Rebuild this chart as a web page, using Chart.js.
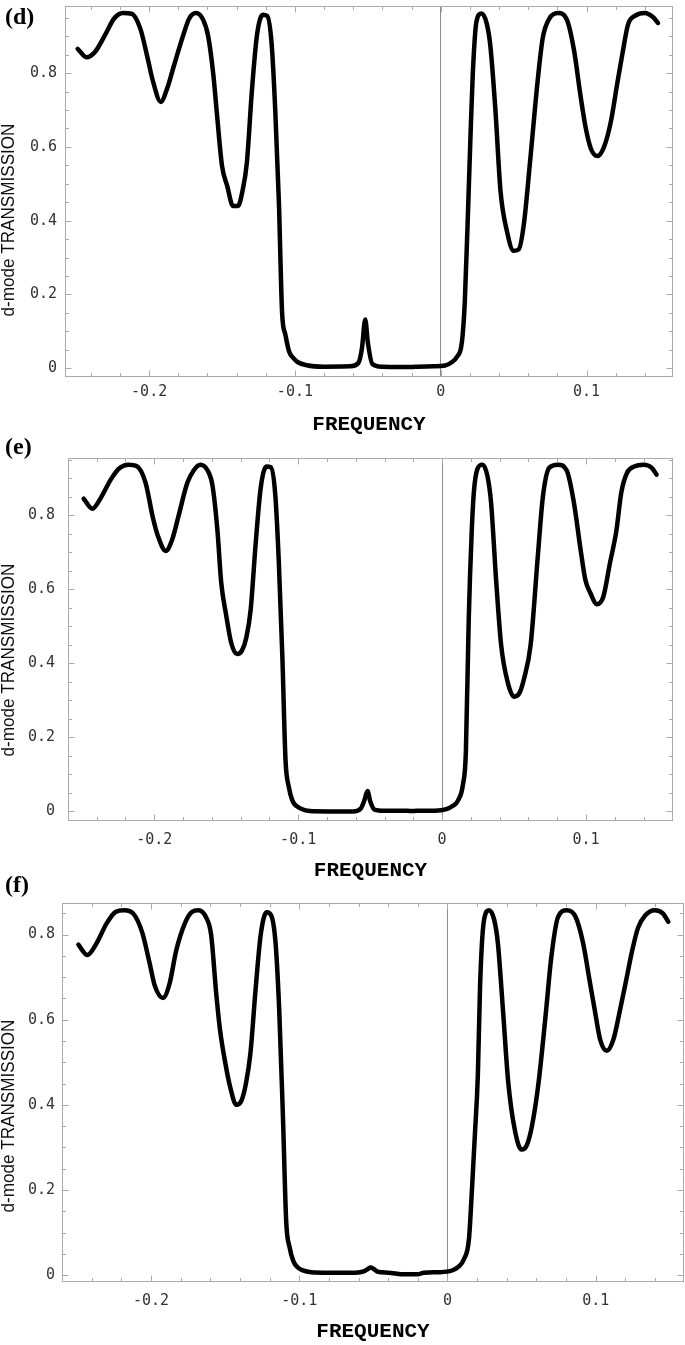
<!DOCTYPE html>
<html>
<head>
<meta charset="utf-8">
<script src="https://cdn.jsdelivr.net/npm/chart.js"></script>
<style>
html,body{margin:0;padding:0;background:#fff;overflow:hidden}
body{width:685px;height:1345px;position:relative}
.panel{position:absolute;left:0;width:685px}
.tag{position:absolute;left:5px;font:bold 24px "Liberation Serif","Times New Roman",serif;line-height:1;color:#000;z-index:2}
</style>
</head>
<body>
<div class="panel" style="top:-11px;height:448px"><canvas id="cd"></canvas></div>
<div class="panel" style="top:436px;height:447px"><canvas id="ce"></canvas></div>
<div class="panel" style="top:887px;height:457px"><canvas id="cf"></canvas></div>
<div class="tag" id="td" style="top:4px"></div>
<div class="tag" id="te" style="top:434px"></div>
<div class="tag" id="tf" style="top:872px"></div>
<script>
// frequency samples shared by the three panels
const freq = [
  -0.249, -0.243, -0.237, -0.230, -0.224, -0.218, -0.212, -0.206, -0.201, -0.1975,
  -0.192, -0.1875, -0.183, -0.177, -0.1725, -0.168, -0.163, -0.1595, -0.156, -0.1535,
  -0.150, -0.1465, -0.1425, -0.139, -0.136, -0.133, -0.1295, -0.126, -0.122, -0.119,
  -0.116, -0.1135, -0.111, -0.1088, -0.1065, -0.104, -0.101, -0.098, -0.092, -0.080,
  -0.062, -0.0565, -0.054, -0.0518, -0.050, -0.047, -0.040, -0.029, -0.020, -0.016,
  -0.005, 0.003, 0.0075, 0.011, 0.0145, 0.0165, 0.0185, 0.0205, 0.022, 0.0245,
  0.028, 0.0315, 0.034, 0.0375, 0.041, 0.0455, 0.050, 0.0535, 0.057, 0.0615,
  0.0665, 0.070, 0.0745, 0.0805, 0.0865, 0.0915, 0.096, 0.0995, 0.103, 0.1075,
  0.112, 0.1165, 0.121, 0.1245, 0.1285, 0.1335, 0.140, 0.1455, 0.149
]

// panel (d)
const transD = [
  0.866, 0.843, 0.858, 0.905, 0.948, 0.963, 0.961, 0.920, 0.840, 0.780,
  0.722, 0.760, 0.820, 0.898, 0.948, 0.963, 0.945, 0.900, 0.797, 0.690,
  0.548, 0.495, 0.440, 0.440, 0.480, 0.556, 0.753, 0.904, 0.958, 0.955,
  0.880, 0.700, 0.450, 0.150, 0.090, 0.045, 0.027, 0.016, 0.008, 0.004,
  0.005, 0.014, 0.055, 0.132, 0.070, 0.012, 0.004, 0.003, 0.003, 0.004,
  0.005, 0.007, 0.016, 0.030, 0.070, 0.180, 0.400, 0.640, 0.800, 0.940,
  0.962, 0.935, 0.875, 0.700, 0.480, 0.370, 0.318, 0.322, 0.390, 0.570,
  0.780, 0.896, 0.948, 0.963, 0.945, 0.860, 0.735, 0.650, 0.595, 0.575,
  0.600, 0.665, 0.770, 0.850, 0.932, 0.956, 0.963, 0.952, 0.936
]

// panel (e)
const transE = [
  0.845, 0.818, 0.848, 0.898, 0.928, 0.937, 0.933, 0.888, 0.795, 0.745,
  0.704, 0.735, 0.800, 0.888, 0.922, 0.937, 0.922, 0.880, 0.755, 0.620,
  0.530, 0.455, 0.425, 0.435, 0.470, 0.545, 0.725, 0.875, 0.932, 0.930,
  0.860, 0.680, 0.420, 0.140, 0.066, 0.029, 0.014, 0.007, 0.001, 0.000,
  0.000, 0.008, 0.030, 0.055, 0.028, 0.005, 0.002, 0.002, 0.001, 0.002,
  0.002, 0.006, 0.015, 0.029, 0.073, 0.160, 0.520, 0.750, 0.860, 0.925,
  0.937, 0.906, 0.835, 0.626, 0.450, 0.350, 0.310, 0.318, 0.360, 0.450,
  0.690, 0.850, 0.929, 0.937, 0.922, 0.836, 0.713, 0.626, 0.590, 0.560,
  0.580, 0.669, 0.757, 0.862, 0.915, 0.932, 0.937, 0.929, 0.910
]

// panel (f)
const transF = [
  0.776, 0.752, 0.778, 0.826, 0.853, 0.857, 0.849, 0.805, 0.733, 0.680,
  0.651, 0.685, 0.763, 0.828, 0.853, 0.857, 0.841, 0.800, 0.660, 0.577,
  0.500, 0.440, 0.400, 0.410, 0.450, 0.520, 0.670, 0.800, 0.852, 0.845,
  0.780, 0.620, 0.370, 0.125, 0.065, 0.033, 0.018, 0.012, 0.007, 0.006,
  0.006, 0.009, 0.014, 0.018, 0.015, 0.008, 0.006, 0.002, 0.002, 0.006,
  0.007, 0.011, 0.020, 0.037, 0.085, 0.200, 0.330, 0.470, 0.680, 0.830,
  0.857, 0.835, 0.780, 0.620, 0.453, 0.340, 0.295, 0.305, 0.350, 0.453,
  0.620, 0.745, 0.840, 0.857, 0.841, 0.780, 0.690, 0.620, 0.554, 0.527,
  0.554, 0.624, 0.700, 0.760, 0.815, 0.845, 0.857, 0.849, 0.830
]

const xTickVals = [-0.2, -0.1, 0, 0.1]
const xTickText = ['-0.2', '-0.1', '0', '0.1']
const xMinor = [-0.24, -0.22, -0.18, -0.16, -0.14, -0.12, -0.08, -0.06, -0.04, -0.02, 0.02, 0.04, 0.06, 0.08, 0.12, 0.14]
const yTickVals = [0, 0.2, 0.4, 0.6, 0.8]
const yTickText = ['0', '0.2', '0.4', '0.6', '0.8']
const yMinor = [0.05, 0.1, 0.15, 0.25, 0.3, 0.35, 0.45, 0.5, 0.55, 0.65, 0.7, 0.75, 0.85, 0.9, 0.95]
const panelTags = ['(d)', '(e)', '(f)']
const xTitle = 'FREQUENCY'
const yTitle = 'd-mode TRANSMISSION'

// where each panel sits (canvas coords: plot top is always at 12)
const layout = [
  {id: 'cd', tag: 'td', vals: transD, left: 65, padRight: 12, xh: 60, xmin: -0.2577, xmax: 0.1593, ymin: -0.024, ymax: 0.982, xpad: 6, ypad: 8, labelY: 231},
  {id: 'ce', tag: 'te', vals: transE, left: 68, padRight: 12, xh: 62, xmin: -0.2599, xmax: 0.1604, ymin: -0.026, ymax: 0.955, xpad: 10, ypad: 13, labelY: 224},
  {id: 'cf', tag: 'tf', vals: transF, left: 62, padRight: 1, xh: 62, xmin: -0.2601, xmax: 0.1596, ymin: -0.016, ymax: 0.874, xpad: 10, ypad: 7, labelY: 229}
]

const framePlugin = {
  id: 'frame',
  beforeDatasetsDraw(chart) {
    const {ctx, chartArea: a, scales: {x, y}} = chart
    const line = (x1, y1, x2, y2) => { ctx.beginPath(); ctx.moveTo(x1, y1); ctx.lineTo(x2, y2); ctx.stroke() }
    ctx.save()
    ctx.strokeStyle = '#aaa'
    ctx.lineWidth = 1
    const l = Math.round(a.left) + 0.5, r = Math.round(a.right) - 0.5
    const t = Math.round(a.top) + 0.5, b = Math.round(a.bottom) - 0.5
    ctx.strokeRect(l, t, r - l, b - t)
    xTickVals.concat(xMinor).forEach(v => {
      const len = xTickVals.includes(v) ? 6 : 3.5
      const px = Math.round(x.getPixelForValue(v)) + 0.5
      line(px, b, px, b - len)
      line(px, t, px, t + len)
    })
    yTickVals.concat(yMinor).forEach(v => {
      if (v > y.max) return
      const len = yTickVals.includes(v) ? 6 : 3.5
      const py = Math.round(y.getPixelForValue(v)) + 0.5
      line(l, py, l + len, py)
      line(r, py, r - len, py)
    })
    ctx.restore()
  },
  afterDraw(chart, args, opts) {
    const ctx = chart.ctx
    ctx.save()
    ctx.fillStyle = '#111'
    ctx.font = '19px "Liberation Sans", Arial, sans-serif'
    ctx.textAlign = 'center'
    ctx.textBaseline = 'middle'
    ctx.translate(opts.labelX, opts.labelY)
    ctx.rotate(-Math.PI / 2)
    ctx.scale(0.9, 1)
    ctx.fillText(yTitle, 0, 0)
    ctx.restore()
  }
}

const tickFont = {family: '"DejaVu Sans Mono", monospace', size: 15}

function makeChart(L, i) {
  document.getElementById(L.tag).textContent = panelTags[i]
  return new Chart(document.getElementById(L.id), {
    type: 'line',
    data: {
      datasets: [{
        data: freq.map((f, k) => ({x: f, y: L.vals[k]})),
        borderColor: '#000',
        borderWidth: 4.5,
        pointRadius: 0,
        fill: false,
        cubicInterpolationMode: 'monotone',
        borderCapStyle: 'round',
        borderJoinStyle: 'round'
      }]
    },
    options: {
      responsive: true,
      maintainAspectRatio: false,
      animation: false,
      layout: {padding: {top: 12, right: L.padRight, left: 0, bottom: 0}},
      plugins: {
        legend: {display: false},
        tooltip: {enabled: false},
        frame: {labelX: 9, labelY: L.labelY}
      },
      scales: {
        x: {
          type: 'linear',
          min: L.xmin,
          max: L.xmax,
          afterBuildTicks: s => { s.ticks = xTickVals.map(v => ({value: v})) },
          afterFit: s => { s.height = L.xh },
          ticks: {
            padding: L.xpad,
            color: '#333',
            font: tickFont,
            autoSkip: false,
            maxRotation: 0,
            callback: (v, k) => xTickText[k]
          },
          grid: {
            drawTicks: false,
            lineWidth: 1,
            color: c => (c.tick && c.tick.value === 0) ? '#8c8c8c' : 'rgba(0,0,0,0)'
          },
          border: {display: false},
          title: {
            display: true,
            text: xTitle,
            color: '#000',
            padding: 0,
            font: {family: '"Liberation Mono", "Courier New", monospace', size: 21, weight: 'bold'}
          }
        },
        y: {
          min: L.ymin,
          max: L.ymax,
          afterBuildTicks: s => { s.ticks = yTickVals.map(v => ({value: v})) },
          afterFit: s => { s.width = L.left },
          ticks: {
            padding: L.ypad,
            color: '#333',
            font: tickFont,
            autoSkip: false,
            callback: (v, k) => yTickText[k]
          },
          grid: {display: false, drawTicks: false},
          border: {display: false}
        }
      }
    },
    plugins: [framePlugin]
  })
}

layout.forEach(makeChart)
</script>
</body>
</html>
